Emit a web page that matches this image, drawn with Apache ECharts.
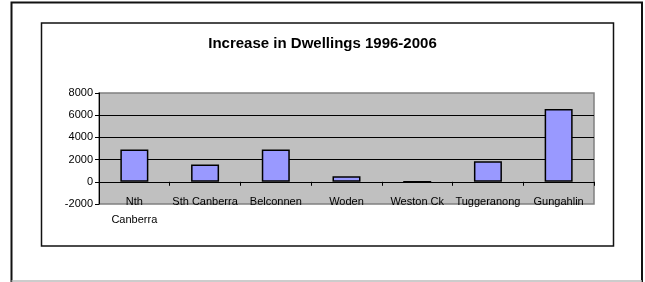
<!DOCTYPE html>
<html>
<head>
<meta charset="utf-8">
<script src="https://cdn.jsdelivr.net/npm/echarts@6/dist/echarts.min.js"></script>
<style>
  html, body { margin: 0; padding: 0; background: #fff; }
  #chart { width: 645px; height: 282px; }
</style>
</head>
<body>
<div id="chart"></div>
<script>
// data
const regions = ['Nth Canberra', 'Sth Canberra', 'Belconnen', 'Woden', 'Weston Ck', 'Tuggeranong', 'Gungahlin']
const increase = [2900, 1550, 2900, 500, 0, 1850, 6550]
const yTicks = [-2000, 8000, 2000] // min, max, step

const chart = echarts.init(document.getElementById('chart'))

const option = {
  backgroundColor: '#fff',
  animation: false,
  title: {
    text: 'Increase in Dwellings 1996-2006',
    left: 'center',
    top: 31,
    textStyle: {
      fontFamily: 'Liberation Sans',
      fontSize: 15,
      fontWeight: 'bold',
      color: '#000'
    }
  },
  graphic: [
    // outer frame
    {
      type: 'polyline',
      shape: { points: [[11.5, 282], [11.5, 2.5], [642, 2.5], [642, 282]] },
      style: { stroke: '#111', lineWidth: 2, fill: null },
      silent: true
    },
    {
      type: 'line',
      shape: { x1: 11.5, y1: 281, x2: 642, y2: 281 },
      style: { stroke: '#bbb', lineWidth: 1.5 },
      silent: true
    },
    // chart area frame
    {
      type: 'rect',
      shape: { x: 41.5, y: 23, width: 572, height: 223 },
      style: { stroke: '#111', lineWidth: 1.5, fill: null },
      silent: true
    }
  ],
  grid: {
    left: 99,
    right: 51,
    top: 93,
    bottom: 78,
    show: true,
    backgroundColor: '#c0c0c0',
    borderColor: '#808080',
    borderWidth: 1.5
  },
  xAxis: {
    type: 'category',
    data: regions,
    axisLine: { onZero: true, lineStyle: { color: '#000', width: 1 } },
    axisTick: { show: true, inside: false, length: 4, alignWithLabel: false, lineStyle: { color: '#000' } },
    axisLabel: {
      margin: -11,
      interval: 0,
      color: '#000',
      fontFamily: 'Liberation Sans',
      fontSize: 11,
      lineHeight: 18,
      formatter: (v) => v === 'Nth Canberra' ? 'Nth\nCanberra' : v
    }
  },
  yAxis: {
    type: 'value',
    min: yTicks[0],
    max: yTicks[1],
    interval: yTicks[2],
    axisLine: { show: true, lineStyle: { color: '#000', width: 1 } },
    axisTick: { show: true, length: 4, lineStyle: { color: '#000' } },
    axisLabel: {
      margin: 6,
      color: '#000',
      fontFamily: 'Liberation Sans',
      fontSize: 11,
      formatter: (v) => String(v)
    },
    splitLine: {
      show: true,
      showMinLine: false,
      showMaxLine: false,
      lineStyle: { color: '#000', width: 1 }
    }
  },
  series: [
    {
      name: 'Increase',
      type: 'bar',
      data: increase,
      barWidth: 28,
      itemStyle: {
        color: '#9999ff',
        borderColor: '#000',
        borderWidth: 1.5
      }
    }
  ]
}

chart.setOption(option)
</script>
</body>
</html>
